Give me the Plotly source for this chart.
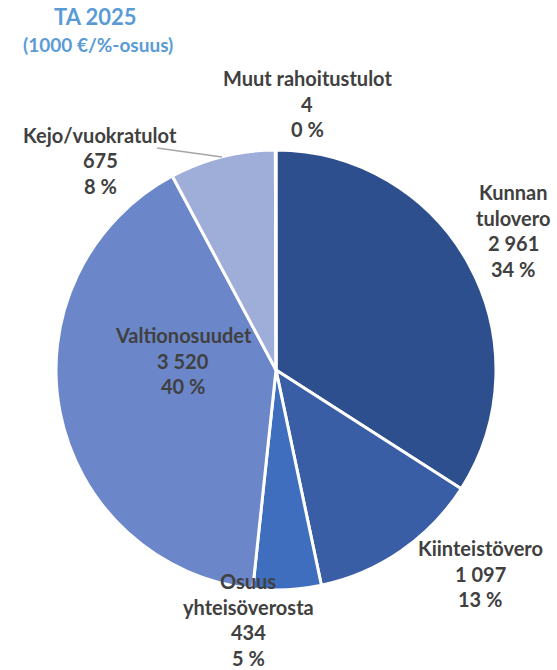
import plotly.graph_objects as go

categories = ["Kunnan tulovero", "Kiinteistövero", "Osuus yhteisöverosta",
              "Valtionosuudet", "Kejo/vuokratulot", "Muut rahoitustulot"]
values = [2961, 1097, 434, 3520, 675, 4]
percents = [34, 13, 5, 40, 8, 0]
label_lines = [["Kunnan", "tulovero"], ["Kiinteistövero"], ["Osuus", "yhteisöverosta"],
               ["Valtionosuudet"], ["Kejo/vuokratulot"], ["Muut rahoitustulot"]]
colors = ["#2E4F8E", "#3A5EA6", "#3F6EBF", "#6B87CA", "#9FADD9", "#C9D1EA"]

W, H = 557, 670

def fmt(v):
    return f"{v:,}".replace(",", " ")

fig = go.Figure(go.Pie(
    labels=categories, values=values, sort=False, direction="clockwise",
    rotation=0, marker=dict(colors=colors, line=dict(color="white", width=3)),
    textinfo="none", hoverinfo="label+value+percent", showlegend=False,
    domain=dict(x=[(276 - 220) / W, (276 + 220) / W],
                y=[(H - 370 - 220) / H, (H - 370 + 220) / H]),
))

# label anchor positions (pixel centre x, first line y) for each slice
label_pos = [(513, 192), (480, 548), (248, 581), (183, 335), (100, 135), (307, 78)]
step = 25.5
font = "Lato, 'Open Sans', sans-serif"
anns = []
for cat_lines, v, p, (px, py) in zip(label_lines, values, percents, label_pos):
    lines = cat_lines + [fmt(v), f"{p} %"]
    for i, t in enumerate(lines):
        anns.append(dict(text=f"<b>{t}</b>", x=px / W, y=1 - (py + i * step) / H,
                         xref="paper", yref="paper", showarrow=False,
                         xanchor="center", yanchor="middle",
                         font=dict(family=font, size=20, color="#404040")))

anns.append(dict(text="<b>TA 2025</b>", x=95 / W, y=1 - 17 / H, xref="paper", yref="paper",
                 showarrow=False, xanchor="center", yanchor="middle",
                 font=dict(family=font, size=22, color="#5B9BD5")))
anns.append(dict(text="<b>(1000 €/%-osuus)</b>", x=98 / W, y=1 - 45 / H, xref="paper", yref="paper",
                 showarrow=False, xanchor="center", yanchor="middle",
                 font=dict(family=font, size=19, color="#5B9BD5")))

fig.update_layout(
    width=W, height=H, margin=dict(l=0, r=0, t=0, b=0),
    paper_bgcolor="white", plot_bgcolor="white",
    annotations=anns,
    shapes=[dict(type="line", xref="paper", yref="paper",
                 x0=157 / W, y0=1 - 148 / H, x1=222 / W, y1=1 - 157 / H,
                 line=dict(color="#A6A6A6", width=1.5))],
)
fig.write_html("out.html", config={"displayModeBar": False},
               post_script="document.body.style.margin='0';")
